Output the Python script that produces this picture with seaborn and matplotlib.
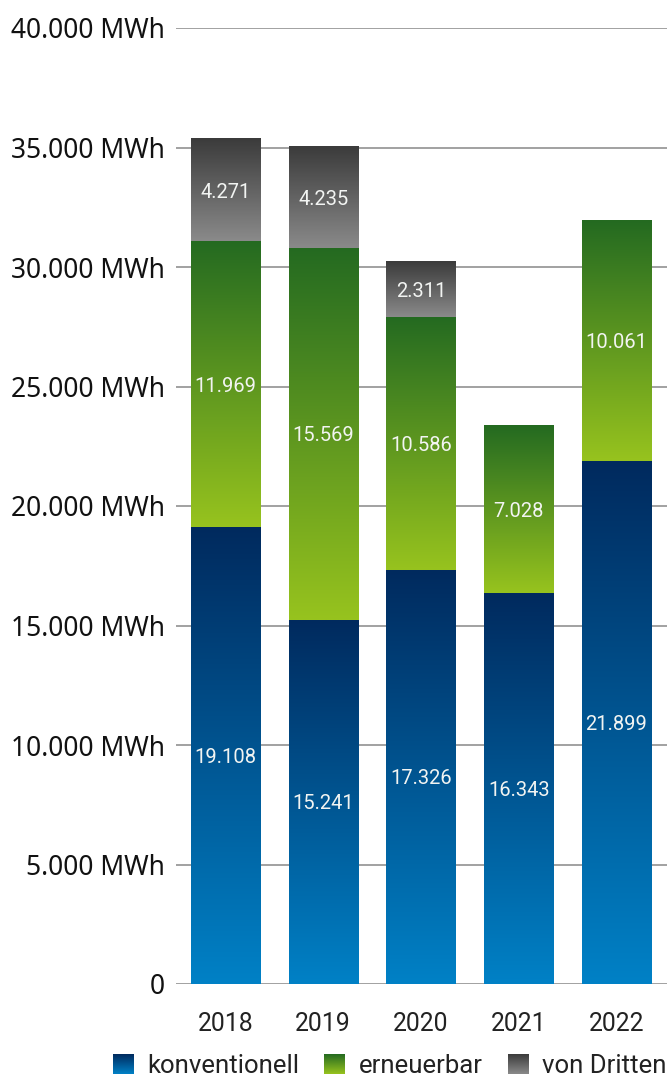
import numpy as np
import pandas as pd
import matplotlib
matplotlib.use("Agg")
import matplotlib.pyplot as plt
import seaborn as sns
from matplotlib.colors import LinearSegmentedColormap
from matplotlib.patches import Patch
from matplotlib.ticker import FuncFormatter, MultipleLocator

# Energieverbrauch nach Herkunft (MWh)
years = ["2018", "2019", "2020", "2021", "2022"]
konventionell = [19108, 15241, 17326, 16343, 21899]
erneuerbar = [11969, 15569, 10586, 7028, 10061]
von_dritten = [4271, 4235, 2311, 0, 0]
series_names = ["konventionell", "erneuerbar", "von Dritten"]

# gradient per series: (bottom colour, top colour)
gradients = {
    "konventionell": ("#0081c6", "#002a5e"),
    "erneuerbar": ("#97c31e", "#246a21"),
    "von Dritten": ("#8a8a8a", "#3b3b3b"),
}
cmaps = {k: LinearSegmentedColormap.from_list(k, v) for k, v in gradients.items()}

df = pd.DataFrame({"Jahr": years, "konventionell": konventionell,
                   "erneuerbar": erneuerbar, "von Dritten": von_dritten})
cum = df[series_names].cumsum(axis=1)

sns.set_style("white")
plt.rcParams["font.family"] = ["Roboto", "DejaVu Sans"]

fig = plt.figure(figsize=(6.7, 10.8), dpi=100)
ax = fig.add_axes([176 / 670, 1 - 984 / 1080, (667 - 176) / 670, (984 - 28) / 1080])

ramp = np.linspace(0, 1, 256).reshape(-1, 1)

# stacked bars: draw cumulative totals from the top series down
layers = {}
for name in reversed(series_names):
    n_before = len(ax.patches)
    sns.barplot(x=df["Jahr"], y=cum[name], color=gradients[name][1],
                width=0.706, ax=ax, zorder=2)
    layers[name] = ax.patches[n_before:]

for si, name in enumerate(series_names):
    for i, patch in enumerate(layers[name]):
        patch.set_alpha(0)
        y0 = 0 if si == 0 else cum[series_names[si - 1]][i]
        y1 = cum[name][i]
        val = df[name][i]
        if val <= 0:
            continue
        x0, w = patch.get_x(), patch.get_width()
        ax.imshow(ramp, cmap=cmaps[name], origin="lower", aspect="auto",
                  extent=[x0, x0 + w, y0, y1], zorder=3, interpolation="bilinear")
        label = f"{val:,}".replace(",", ".")
        ax.text(x0 + w / 2, (y0 + y1) / 2, label, ha="center",
                va="center_baseline", color="#f2f4f2", fontsize=14.5,
                fontweight="normal", zorder=4)

ax.set_xlim(-0.506, 4.517)
ax.set_ylim(0, 40000)
ax.yaxis.set_major_locator(MultipleLocator(5000))
ax.yaxis.set_major_formatter(FuncFormatter(
    lambda v, p: "0" if v == 0 else f"{v:,.0f}".replace(",", ".") + " MWh"))
ax.set_axisbelow(True)
ax.yaxis.grid(True, color="#9a9a9a", linewidth=1.3, zorder=0)
ax.xaxis.grid(False)
for s in ax.spines.values():
    s.set_visible(False)
ax.set_xlabel("")
ax.set_ylabel("")
ax.tick_params(axis="y", length=0, pad=8, labelsize=19, labelcolor="#111111")
ax.tick_params(axis="x", length=0, pad=20, labelsize=17.8, labelcolor="#222222")
for t in ax.get_yticklabels():
    t.set_family(["Noto Sans", "DejaVu Sans"])

# legend with gradient swatches
handles = [Patch(facecolor=gradients[n][1], label=n) for n in series_names]
leg = fig.legend(handles=handles, loc="center right", ncol=3, frameon=False,
                 bbox_to_anchor=(667 / 670, 1 - 1066 / 1080), fontsize=18.5,
                 handlelength=0.78, handleheight=0.78, handletextpad=0.55,
                 columnspacing=1.0, borderpad=0, borderaxespad=0,
                 labelcolor="#222222")

fig.canvas.draw()
renderer = fig.canvas.get_renderer()
for h, name in zip(leg.legend_handles, series_names):
    bb = h.get_window_extent(renderer).transformed(fig.transFigure.inverted())
    h.set_alpha(0)
    sax = fig.add_axes([bb.x0, bb.y0, bb.width, bb.height])
    sax.imshow(ramp, cmap=cmaps[name], origin="lower", aspect="auto",
               interpolation="bilinear")
    sax.set_axis_off()

fig.savefig("out.png", dpi=100)
